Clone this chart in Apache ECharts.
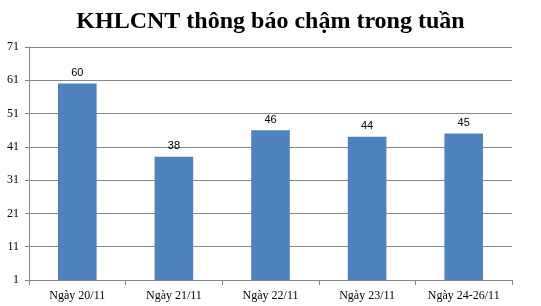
<!DOCTYPE html>
<html><head><meta charset="utf-8">
<script src="https://cdn.jsdelivr.net/npm/echarts@6/dist/echarts.min.js"></script>
<style>html,body{margin:0;padding:0;background:#fff}#c{width:541px;height:306px}</style>
</head><body><div id="c"></div>
<script>
var categories = ['Ngày 20/11', 'Ngày 21/11', 'Ngày 22/11', 'Ngày 23/11', 'Ngày 24-26/11'];
var values = [60, 38, 46, 44, 45];
var yTicks = [1, 11, 21, 31, 41, 51, 61, 71];
var titleText = 'KHLCNT thông báo chậm trong tuần';

var chart = echarts.init(document.getElementById('c'));
chart.setOption({
  animation: false,
  title: {
    text: titleText, left: 'center', top: 5,
    textStyle: { fontFamily: 'Liberation Serif', fontWeight: 'bold', fontSize: 24, color: '#000' }
  },
  grid: { left: 29, right: 29, top: 47, bottom: 26, containLabel: false },
  xAxis: {
    type: 'category', data: categories,
    axisLine: { lineStyle: { color: '#868686', width: 1 } },
    axisTick: { show: true, alignWithLabel: false, length: 5, lineStyle: { color: '#868686' } },
    axisLabel: { fontFamily: 'Liberation Serif', fontSize: 12, color: '#000', margin: 10 }
  },
  yAxis: {
    type: 'value', min: yTicks[0], max: yTicks[yTicks.length - 1], interval: yTicks[1] - yTicks[0],
    axisLine: { show: true, lineStyle: { color: '#868686', width: 1 } },
    axisTick: { show: true, length: 4, lineStyle: { color: '#868686' } },
    splitLine: { show: true, lineStyle: { color: '#868686', width: 1 } },
    axisLabel: { fontFamily: 'Liberation Serif', fontSize: 12, color: '#000', margin: 10 }
  },
  series: [{
    type: 'bar', data: values, barWidth: '40%',
    itemStyle: { color: '#4F81BD' },
    label: { show: true, position: 'top', distance: 5, fontFamily: 'Liberation Sans', fontSize: 11, color: '#000' }
  }]
});
</script></body></html>
